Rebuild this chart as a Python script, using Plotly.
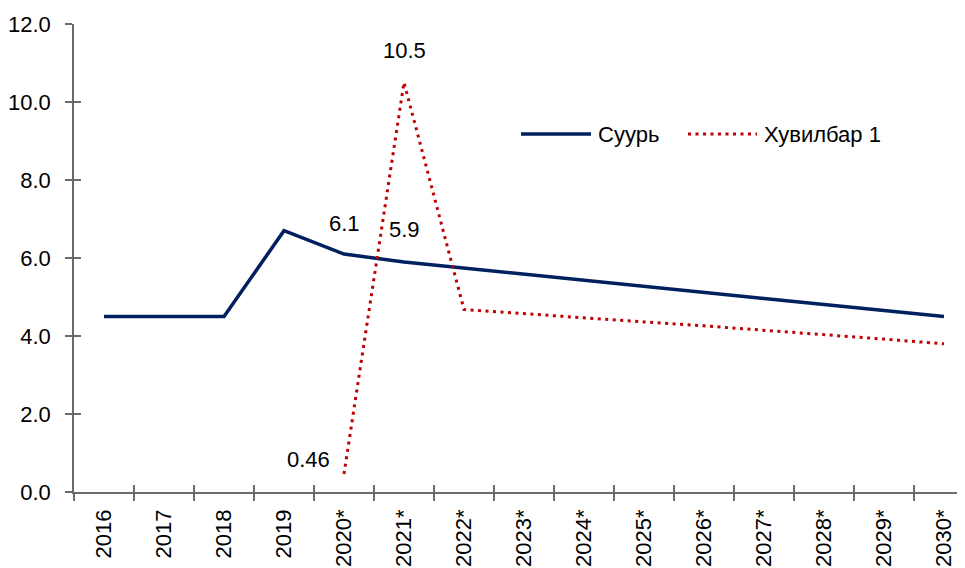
import plotly.graph_objects as go

categories = ["2016", "2017", "2018", "2019", "2020*", "2021*", "2022*", "2023*",
              "2024*", "2025*", "2026*", "2027*", "2028*", "2029*", "2030*"]
suur = [4.5, 4.5, 4.5, 6.7, 6.1, 5.9, 5.74, 5.59, 5.43, 5.28, 5.12, 4.96, 4.81, 4.66, 4.5]
hv_cats = categories[4:]
hv1 = [0.46, 10.5, 4.68, 4.57, 4.47, 4.36, 4.26, 4.15, 4.04, 3.92, 3.8]
y_ticks = [0, 2, 4, 6, 8, 10, 12]

NAVY = "#002060"
RED = "#C00000"
AXIS = "#6b6b6b"
FONT = "Liberation Sans, Arial, sans-serif"
FS = 22

# page body has an 8px margin; figure sized so it ends at the window edge
W, H = 957, 560
ML, MT, MB = 66, 16, 76
PW = W - ML
PH = H - MT - MB

fig = go.Figure()
fig.add_trace(go.Scatter(x=categories, y=suur, mode="lines", name="Суурь",
                         line=dict(color=NAVY, width=3.5), showlegend=False,
                         xaxis="x", yaxis="y"))
fig.add_trace(go.Scatter(x=hv_cats, y=hv1, mode="lines", name="Хувилбар 1",
                         line=dict(color=RED, width=3, dash="3px,4.5px"), showlegend=False,
                         xaxis="x2", yaxis="y2"))

xr = [-0.5, 14.35]
common_x = dict(type="category", categoryorder="array", categoryarray=categories,
                range=xr, tickson="boundaries", showgrid=False, zeroline=False,
                tickcolor=AXIS, tickwidth=1.5, ticklen=7)
common_y = dict(range=[0, 12], tickvals=y_ticks, showgrid=False, zeroline=False,
                tickcolor=AXIS, tickwidth=1.5, ticklen=7)

fig.update_layout(
    width=W, height=H,
    margin=dict(l=ML, r=0, t=MT, b=MB, pad=0),
    paper_bgcolor="white", plot_bgcolor="white",
    font=dict(family=FONT, size=FS, color="black"),
    xaxis=dict(**common_x, ticks="outside", showline=True, linecolor=AXIS, linewidth=1.5,
               tickangle=-90, tickfont=dict(size=FS), ticklabelstandoff=7),
    xaxis2=dict(**common_x, ticks="inside", overlaying="x", anchor="y2", side="bottom",
                showticklabels=False, showline=False),
    yaxis=dict(**common_y, ticks="outside", showline=True, linecolor=AXIS, linewidth=1.5,
               tickformat=".1f", tickfont=dict(size=FS), ticklabelstandoff=10),
    yaxis2=dict(**common_y, ticks="inside", overlaying="y", anchor="x2", side="left",
                showticklabels=False, showline=False),
    showlegend=False,
)

# data labels
labels = [
    dict(x=categories[4], y=suur[4], text=f"{suur[4]:.1f}", xshift=0, yshift=31, xref="x", yref="y"),
    dict(x=categories[5], y=suur[5], text=f"{suur[5]:.1f}", xshift=0, yshift=32, xref="x", yref="y"),
    dict(x=hv_cats[1], y=hv1[1], text=f"{hv1[1]:.1f}", xshift=0, yshift=32, xref="x2", yref="y2"),
    dict(x=hv_cats[0], y=hv1[0], text=f"{hv1[0]:.2f}", xshift=-36, yshift=15, xref="x2", yref="y2"),
]
for a in labels:
    fig.add_annotation(showarrow=False, font=dict(size=FS, color="black"),
                       xanchor="center", yanchor="middle", **a)

# manual legend (positions given in window pixels, converted to paper coords)
def px_x(p):
    return (p - 8 - ML) / PW

def px_y(p):
    return (MT + PH - (p - 8)) / PH

ly = px_y(134)
fig.add_shape(type="line", xref="paper", yref="paper", x0=px_x(521), x1=px_x(591), y0=ly, y1=ly,
              line=dict(color=NAVY, width=3.5))
fig.add_shape(type="line", xref="paper", yref="paper", x0=px_x(688), x1=px_x(757), y0=ly, y1=ly,
              line=dict(color=RED, width=3, dash="3px,4.5px"))
fig.add_annotation(xref="paper", yref="paper", x=px_x(596), y=ly, text="Суурь", showarrow=False,
                   xanchor="left", yanchor="middle", font=dict(size=FS, color="black"))
fig.add_annotation(xref="paper", yref="paper", x=px_x(762), y=ly, text="Хувилбар 1", showarrow=False,
                   xanchor="left", yanchor="middle", font=dict(size=FS, color="black"))

fig.write_html("out.html")
